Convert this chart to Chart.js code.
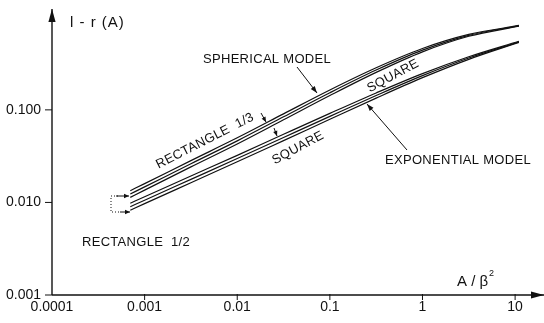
<!DOCTYPE html>
<html>
<head>
<meta charset="utf-8">
<script src="https://cdn.jsdelivr.net/npm/chart.js@4/dist/chart.umd.min.js"></script>
<style>
  html, body { margin: 0; padding: 0; background: #fff; }
  #c { display: block; }
</style>
</head>
<body>
<canvas id="c" width="544" height="323"></canvas>
<script>
// ---- data ----
const areaRatio = [0.0007, 0.001, 0.00316, 0.01, 0.0316, 0.1, 0.316, 1, 3.16, 11];

const sphericalRect13  = [0.01340, 0.01596, 0.02831, 0.04989, 0.09057, 0.1641, 0.2851, 0.4603, 0.6531, 0.8166];
const sphericalRect12  = [0.01233, 0.01472, 0.02618, 0.04624, 0.08414, 0.1531, 0.2692, 0.4416, 0.6383, 0.8091];
const sphericalSquare  = [0.01135, 0.01358, 0.02421, 0.04285, 0.07816, 0.1429, 0.2541, 0.4236, 0.6237, 0.8017];

const exponentialRect13 = [0.009817, 0.01151, 0.01928, 0.03228, 0.05445, 0.09162, 0.1524, 0.2466, 0.3750, 0.5508];
const exponentialRect12 = [0.008995, 0.01057, 0.01774, 0.02979, 0.05035, 0.08511, 0.1429, 0.2344, 0.3631, 0.5433];
const exponentialSquare = [0.008241, 0.009705, 0.01633, 0.02748, 0.04656, 0.07907, 0.1340, 0.2228, 0.3516, 0.5358];

const xTickValues = [0.0001, 0.001, 0.01, 0.1, 1, 10];
const xTickLabels = ['0.0001', '0.001', '0.01', '0.1', '1', '10'];
const yTickValues = [0.001, 0.01, 0.1];
const yTickLabels = ['0.001', '0.010', '0.100'];

const seriesNames = ['Spherical – rectangle 1/3', 'Spherical – rectangle 1/2', 'Spherical – square',
                     'Exponential – rectangle 1/3', 'Exponential – rectangle 1/2', 'Exponential – square'];
const seriesValues = [sphericalRect13, sphericalRect12, sphericalSquare,
                      exponentialRect13, exponentialRect12, exponentialSquare];

// ---- styling / layout ----
const INK = '#111';
const FONT = '"Liberation Sans", Arial, Helvetica, sans-serif';

const datasets = seriesValues.map((vals, i) => ({
  label: seriesNames[i],
  data: areaRatio.map((a, k) => ({ x: a, y: vals[k] })),
  borderColor: INK,
  borderWidth: 1.2,
  pointRadius: 0,
  fill: false,
  cubicInterpolationMode: 'monotone'
}));

function arrow(ctx, x1, y1, x2, y2, len, half) {
  ctx.beginPath(); ctx.moveTo(x1, y1); ctx.lineTo(x2, y2); ctx.stroke();
  const a = Math.atan2(y2 - y1, x2 - x1);
  ctx.beginPath();
  ctx.moveTo(x2, y2);
  ctx.lineTo(x2 - len * Math.cos(a) + half * Math.sin(a), y2 - len * Math.sin(a) - half * Math.cos(a));
  ctx.lineTo(x2 - len * Math.cos(a) - half * Math.sin(a), y2 - len * Math.sin(a) + half * Math.cos(a));
  ctx.closePath(); ctx.fill();
}

function rotText(ctx, txt, x, y, deg) {
  ctx.save(); ctx.translate(x, y); ctx.rotate(deg * Math.PI / 180);
  ctx.textAlign = 'center'; ctx.textBaseline = 'middle';
  ctx.fillText(txt, 0, 0); ctx.restore();
}

const decorPlugin = {
  id: 'decor',
  afterDraw(chart) {
    const ctx = chart.ctx, xs = chart.scales.x, ys = chart.scales.y;
    const x0 = xs.getPixelForValue(xTickValues[0]);
    const y0 = ys.getPixelForValue(yTickValues[0]);
    ctx.save();
    ctx.strokeStyle = INK; ctx.fillStyle = INK; ctx.lineWidth = 1.4;
    // axes with arrows
    arrow(ctx, x0, y0, x0, 9, 13, 3.6);
    arrow(ctx, x0, y0, 544, y0, 13, 3.6);
    // y ticks
    ctx.lineWidth = 1;
    ctx.font = '14px ' + FONT;
    ctx.textAlign = 'right'; ctx.textBaseline = 'middle';
    yTickValues.forEach((v, i) => {
      const py = ys.getPixelForValue(v);
      ctx.beginPath(); ctx.moveTo(x0 - 7, py); ctx.lineTo(x0, py); ctx.stroke();
      ctx.fillText(yTickLabels[i], x0 - 11, py);
    });
    // x ticks
    ctx.textAlign = 'center'; ctx.textBaseline = 'middle';
    xTickValues.forEach((v, i) => {
      const px = xs.getPixelForValue(v);
      if (i > 0) { ctx.beginPath(); ctx.moveTo(px, y0 - 1); ctx.lineTo(px, y0 + 5); ctx.stroke(); }
      ctx.fillText(xTickLabels[i], px, y0 + 12);
    });
    // axis titles
    ctx.textAlign = 'left'; ctx.textBaseline = 'middle';
    ctx.font = '15px ' + FONT;
    ctx.letterSpacing = '1px';
    ctx.fillText('l - r (A)', 70, 23);
    ctx.letterSpacing = '0px';
    ctx.fillText('A / \u03b2', 457, 282);
    ctx.font = '9px ' + FONT;
    ctx.fillText('2', 489, 274);

    // annotations
    ctx.font = '13px ' + FONT;
    ctx.letterSpacing = '0.3px';
    ctx.textAlign = 'left';
    ctx.fillText('SPHERICAL MODEL', 203, 59);
    ctx.fillText('EXPONENTIAL MODEL', 385, 160);
    ctx.fillText('RECTANGLE  1/2', 82, 242);
    rotText(ctx, 'RECTANGLE  1/3', 205, 141, -27);
    rotText(ctx, 'SQUARE', 393, 76, -28);
    rotText(ctx, 'SQUARE', 298, 148, -28);
    ctx.letterSpacing = '0px';

    ctx.lineWidth = 1;
    arrow(ctx, 297, 67, 317, 93, 7, 2.5);      // spherical
    arrow(ctx, 407, 150, 367, 104, 7, 2.5);    // exponential
    arrow(ctx, 261, 113, 266, 122, 5, 2.2);    // rect 1/3 (upper)
    arrow(ctx, 274, 128, 277, 136, 5, 2.2);    // rect 1/3 (lower)
    arrow(ctx, 116, 196, 129, 196, 5, 2.2);    // rect 1/2 (upper)
    arrow(ctx, 120, 212, 130, 212, 5, 2.2);    // rect 1/2 (lower)
    ctx.setLineDash([1, 2]);
    ctx.beginPath();
    ctx.moveTo(118, 196); ctx.lineTo(111, 196); ctx.lineTo(111, 212); ctx.lineTo(121, 212);
    ctx.stroke();
    ctx.setLineDash([]);
    ctx.restore();
  }
};

new Chart(document.getElementById('c'), {
  type: 'line',
  data: { datasets },
  options: {
    responsive: false,
    animation: false,
    devicePixelRatio: 1,
    layout: { padding: { left: 52, right: 1, top: 11, bottom: 28 } },
    plugins: { legend: { display: false }, tooltip: { enabled: false } },
    scales: {
      x: { type: 'logarithmic', min: 0.0001, max: 20, display: false },
      y: { type: 'logarithmic', min: 0.001, max: 1.17, display: false }
    }
  },
  plugins: [decorPlugin]
});
</script>
</body>
</html>
